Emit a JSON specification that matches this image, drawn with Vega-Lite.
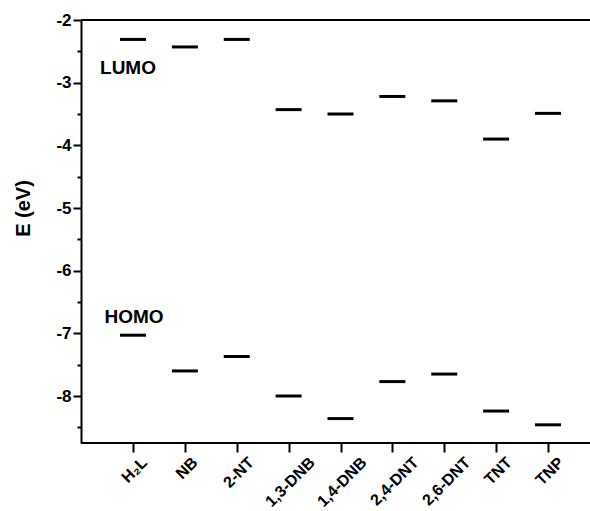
{
  "$schema": "https://vega.github.io/schema/vega-lite/v6.json",
  "width": 509,
  "height": 423,
  "autosize": {"type": "none"},
  "padding": {"left": 81, "top": 20, "right": 0, "bottom": 68},
  "background": "white",
  "config": {
    "view": {"stroke": null},
    "font": "Liberation Sans",
    "axis": {"domainColor": "black", "tickColor": "black", "labelColor": "black", "titleColor": "black", "domainWidth": 2, "tickWidth": 2, "grid": false}
  },
  "datasets": {
    "levels": [
      {"compound": "H₂L", "orbital": "LUMO", "E": -2.31},
      {"compound": "NB", "orbital": "LUMO", "E": -2.43},
      {"compound": "2-NT", "orbital": "LUMO", "E": -2.31},
      {"compound": "1,3-DNB", "orbital": "LUMO", "E": -3.43},
      {"compound": "1,4-DNB", "orbital": "LUMO", "E": -3.50},
      {"compound": "2,4-DNT", "orbital": "LUMO", "E": -3.22},
      {"compound": "2,6-DNT", "orbital": "LUMO", "E": -3.29},
      {"compound": "TNT", "orbital": "LUMO", "E": -3.90},
      {"compound": "TNP", "orbital": "LUMO", "E": -3.49},
      {"compound": "H₂L", "orbital": "HOMO", "E": -7.03},
      {"compound": "NB", "orbital": "HOMO", "E": -7.60},
      {"compound": "2-NT", "orbital": "HOMO", "E": -7.37},
      {"compound": "1,3-DNB", "orbital": "HOMO", "E": -8.00},
      {"compound": "1,4-DNB", "orbital": "HOMO", "E": -8.36},
      {"compound": "2,4-DNT", "orbital": "HOMO", "E": -7.77},
      {"compound": "2,6-DNT", "orbital": "HOMO", "E": -7.65},
      {"compound": "TNT", "orbital": "HOMO", "E": -8.24},
      {"compound": "TNP", "orbital": "HOMO", "E": -8.46}
    ],
    "frame": [
      {"edge": "top", "E": -2},
      {"edge": "bottom", "E": -8.75}
    ]
  },
  "resolve": {"axis": {"y": "independent"}},
  "layer": [
    {
      "data": {"name": "levels"},
      "mark": {"type": "tick", "size": 26, "thickness": 3, "color": "black", "opacity": 1},
      "encoding": {
        "x": {
          "field": "compound", "type": "nominal", "sort": null,
          "scale": {"type": "point", "range": [52, 467], "padding": 0},
          "axis": {
            "title": null, "domain": false, "labelAngle": -45, "labelAlign": "right", "labelBaseline": "top",
            "labelFontSize": 16, "labelFontWeight": "bold", "tickSize": 9, "labelPadding": 2,
            "labelOffset": {"condition": [
              {"test": "length(datum.label) >= 7", "value": 17.5},
              {"test": "datum.label === '2-NT'", "value": 8.5},
              {"test": "datum.label === 'NB'", "value": 4},
              {"test": "datum.label === 'H₂L'", "value": 5.5}
            ], "value": 7}
          }
        },
        "y": {
          "field": "E", "type": "quantitative",
          "scale": {"domain": [-8.75, -2], "nice": false, "zero": false},
          "axis": {
            "title": "E (eV)", "titleFontSize": 20, "titleFontWeight": "bold",
            "titleX": -48, "titleY": 188, "titleAngle": -90, "titleBaseline": "bottom", "titleAlign": "center",
            "values": [-8, -7, -6, -5, -4, -3, -2],
            "labelExpr": "replace(datum.label, '−', '-')",
            "labelOverlap": false, "tickSize": 8,
            "labelFontSize": 17, "labelFontWeight": "bold", "labelPadding": 2
          }
        }
      }
    },
    {
      "data": {"name": "frame"},
      "mark": {"type": "rule", "color": "black", "strokeWidth": 2},
      "encoding": {
        "y": {
          "field": "E", "type": "quantitative",
          "scale": {"domain": [-8.75, -2], "nice": false, "zero": false},
          "axis": {"orient": "left", "title": null, "labels": false, "domain": false, "tickSize": 4,
                   "values": [-8.5, -7.5, -6.5, -5.5, -4.5, -3.5, -2.5]}
        }
      }
    },
    {
      "data": {"values": [{"compound": "H₂L", "text": "LUMO", "E": -2.77}]},
      "mark": {"type": "text", "fontSize": 19, "fontWeight": "bold", "color": "black", "dx": -5},
      "encoding": {
        "x": {"field": "compound", "type": "nominal", "sort": null},
        "y": {"field": "E", "type": "quantitative", "axis": null},
        "text": {"field": "text"}
      }
    },
    {
      "data": {"values": [{"compound": "H₂L", "text": "HOMO", "E": -6.74}]},
      "mark": {"type": "text", "fontSize": 19, "fontWeight": "bold", "color": "black", "dx": 1},
      "encoding": {
        "x": {"field": "compound", "type": "nominal", "sort": null},
        "y": {"field": "E", "type": "quantitative", "axis": null},
        "text": {"field": "text"}
      }
    }
  ]
}
